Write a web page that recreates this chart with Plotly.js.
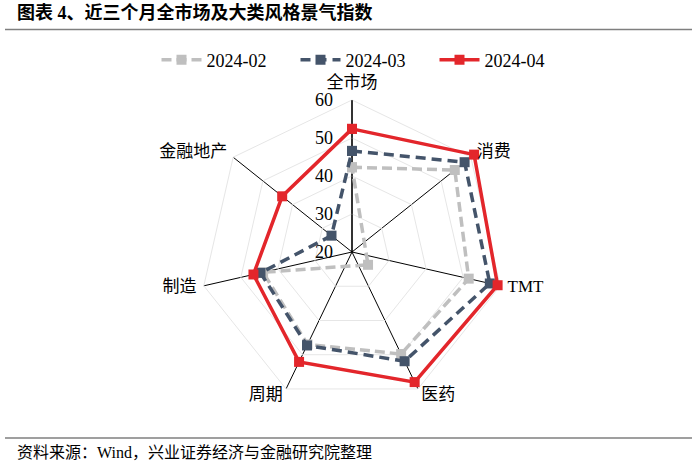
<!DOCTYPE html>
<html>
<head>
<meta charset="utf-8">
<script src="https://cdn.plot.ly/plotly-3.0.1.min.js"></script>
<style>
html,body{margin:0;padding:0;background:#fff;}
#chart{width:700px;height:467px;}
</style>
</head>
<body>
<div id="chart"></div>
<script>
var categories = ['全市场','消费','TMT','医药','周期','制造','金融地产'];
var seriesNames = ['2024-02','2024-03','2024-04'];
var v202402 = [42.3, 54.6, 51.5, 49.8, 47.0, 44.0, 14.6];
var v202403 = [46.6, 57.9, 57.2, 51.9, 47.3, 44.7, 26.9];
var v202404 = [52.4, 61.1, 59.3, 58.0, 52.1, 46.6, 43.5];
var radialTicks = [20, 30, 40, 50, 60];
var rMin = 20, rMax = 60, rOuter = 70;

var serif = '"Liberation Serif", "Noto Sans CJK SC", serif';

var styles = [
  {color:'#BFBFBF', dash:'10px,5px'},
  {color:'#44546A', dash:'10px,6px'},
  {color:'#E3262B', dash:'solid'}
];
var values = [v202402, v202403, v202404];
var step = 360 / categories.length;

// category label placement around the outer ring
var labelR = 62;
var labelPos = ['top center','middle right','middle right','middle right','middle left','middle left','middle left'];

// Like the original radar chart, a value below the axis minimum is drawn
// through the centre, on the opposite side of its spoke.
function polarPoints(v){
  var r = [], th = [];
  v.forEach(function(val, i){
    if (val < rMin) { r.push(2*rMin - val); th.push(i*step + 180); }
    else { r.push(val); th.push(i*step); }
  });
  r.push(r[0]); th.push(th[0]);
  return {r:r, theta:th};
}

// invisible trace that carries the categorical polygon grid
var traces = [{
  type:'scatterpolar', subplot:'polar', r:v202404.map(function(v){return Math.min(v, rMax);}), theta:categories,
  mode:'markers', marker:{opacity:0, size:1}, showlegend:false, hoverinfo:'skip'
}];

values.forEach(function(v, i){
  var p = polarPoints(v);
  traces.push({
    type:'scatterpolar', subplot:'polar2',
    r:p.r, theta:p.theta, thetaunit:'degrees',
    name:seriesNames[i],
    mode:'lines+markers',
    line:{color:styles[i].color, width:3.5, dash:styles[i].dash},
    marker:{symbol:'square', size:10, color:styles[i].color},
    cliponaxis:false
  });
});

// category labels
traces.push({
  type:'scatterpolar', subplot:'polar2',
  r:categories.map(function(){ return labelR; }),
  theta:categories.map(function(c, i){ return i*step; }),
  thetaunit:'degrees',
  mode:'text', text:categories, textposition:labelPos,
  marker:{size:8},
  textfont:{family:serif, size:17, color:'#000'},
  showlegend:false, hoverinfo:'skip', cliponaxis:false
});

// geometry: centre (352, 252) px, 60 on the radial axis at 152 px
var cx = 352, cy = 252, R = 152, W = 700, H = 467;
var R2 = R * (rOuter - rMin) / (rMax - rMin);
var dom = {x:[(cx-R)/W, (cx+R)/W], y:[(H-cy-R)/H, (H-cy+R)/H]};
var dom2 = {x:[(cx-R2)/W, (cx+R2)/W], y:[(H-cy-R2)/H, (H-cy+R2)/H]};

var layout = {
  width:W, height:H,
  margin:{l:0,r:0,t:0,b:0},
  paper_bgcolor:'#fff',
  showlegend:true,
  legend:{orientation:'h', x:365/700, xanchor:'center', y:1-60/467, yanchor:'middle',
          font:{family:serif, size:18, color:'#000'}, itemwidth:40, entrywidth:84,
          bgcolor:'rgba(0,0,0,0)'},
  polar:{
    domain:dom,
    gridshape:'linear',
    bgcolor:'#fff',
    radialaxis:{
      range:[rMin,rMax], tickvals:radialTicks, angle:90, side:'counterclockwise', tickangle:90,
      showline:true, linecolor:'#000', linewidth:1.2,
      gridcolor:'#E6E6E6', gridwidth:1, ticks:'outside', ticklen:12, tickcolor:'rgba(0,0,0,0)',
      tickfont:{family:serif, size:18, color:'#000'}
    },
    angularaxis:{
      type:'category', categoryarray:categories, rotation:90, direction:'clockwise',
      showgrid:true, gridcolor:'#000', gridwidth:1,
      showline:true, linecolor:'#E6E6E6', linewidth:1, ticks:'', showticklabels:false
    }
  },
  polar2:{
    domain:dom2,
    bgcolor:'rgba(0,0,0,0)',
    radialaxis:{range:[rMin,rOuter], visible:false},
    angularaxis:{type:'linear', thetaunit:'degrees', rotation:90, direction:'clockwise', visible:false}
  },
  annotations:[
    {xref:'paper', yref:'paper', x:15/700, y:1-13/467, xanchor:'left', yanchor:'middle',
     text:'<b>图表 4、近三个月全市场及大类风格景气指数</b>', showarrow:false,
     font:{family:serif, size:18, color:'#000'}},
    {xref:'paper', yref:'paper', x:15/700, y:1-452/467, xanchor:'left', yanchor:'middle',
     text:'资料来源：Wind，兴业证券经济与金融研究院整理', showarrow:false,
     font:{family:serif, size:16, color:'#000'}}
  ],
  shapes:[
    {type:'line', xref:'paper', yref:'paper', x0:5/700, x1:692/700, y0:1-29.5/467, y1:1-29.5/467,
     line:{color:'#7F7F7F', width:1.5}},
    {type:'line', xref:'paper', yref:'paper', x0:5/700, x1:692/700, y0:1-438/467, y1:1-438/467,
     line:{color:'#7F7F7F', width:1.5}}
  ]
};

Plotly.newPlot('chart', traces, layout, {displayModeBar:false, staticPlot:true});
</script>
</body>
</html>
